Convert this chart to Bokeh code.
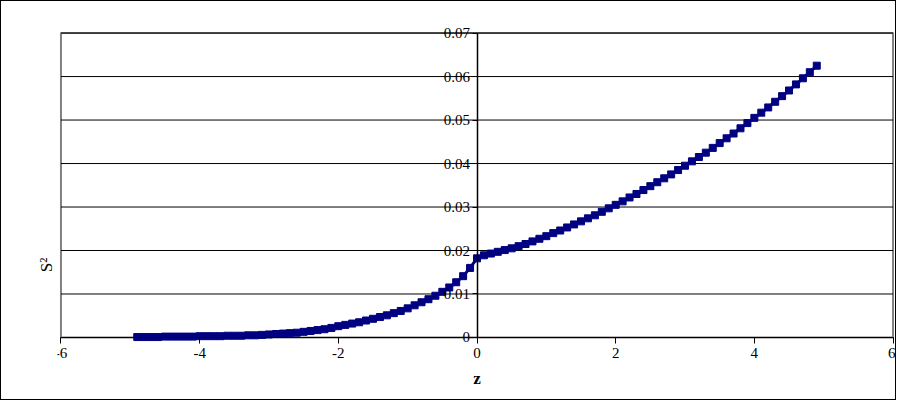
from bokeh.plotting import figure
from bokeh.models import Label, FixedTicker, Range1d, LinearAxis
from bokeh.embed import file_html
from bokeh.resources import INLINE

z = [round(-4.9 + 0.1 * i, 1) for i in range(99)]
s2 = [
    0.0001, 0.0001, 0.0001, 0.0001, 0.0002, 0.0002, 0.0002, 0.0002, 0.0002, 0.0003,
    0.0003, 0.0003, 0.0003, 0.0004, 0.0004, 0.0004, 0.0005, 0.0005, 0.0006, 0.0007,
    0.0008, 0.0009, 0.0010, 0.0011, 0.0013, 0.0015, 0.0017, 0.0019, 0.0022, 0.0026,
    0.0029, 0.0032, 0.0035, 0.0039, 0.0043, 0.0047, 0.0051, 0.0056, 0.0061, 0.0067,
    0.0074, 0.0081, 0.0088, 0.0096, 0.0105, 0.0115, 0.0127, 0.0141, 0.0160, 0.0182,
    0.0189, 0.0193, 0.0197, 0.0201, 0.0205, 0.0210, 0.0215, 0.0221, 0.0227, 0.0233,
    0.0240, 0.0246, 0.0253, 0.0260, 0.0267, 0.0274, 0.0281, 0.0289, 0.0297, 0.0305,
    0.0313, 0.0322, 0.0330, 0.0339, 0.0348, 0.0357, 0.0366, 0.0375, 0.0385, 0.0395,
    0.0405, 0.0415, 0.0425, 0.0436, 0.0447, 0.0458, 0.0469, 0.0481, 0.0493, 0.0505,
    0.0517, 0.0529, 0.0542, 0.0555, 0.0568, 0.0582, 0.0596, 0.0610, 0.0625,
]
x_ticks = [-6, -4, -2, 0, 2, 4, 6]
x_labels = ["-6", "-4", "-2", "0", "2", "4", "6"]
y_ticks = [0, 0.01, 0.02, 0.03, 0.04, 0.05, 0.06, 0.07]
y_labels = ["0", "0.01", "0.02", "0.03", "0.04", "0.05", "0.06", "0.07"]

FONT = "Liberation Serif"

# the frame is padded so tick labels of the centred axes are not clipped
p = figure(width=896, height=400, output_backend="svg", toolbar_location=None,
           x_range=Range1d(-6.05, 6.05), y_range=Range1d(-0.0115, 0.0722),
           min_border_left=56, min_border_right=1, min_border_top=22, min_border_bottom=14)
p.styles = {"border": "1px solid black", "box-sizing": "border-box"}
p.outline_line_color = None
p.grid.visible = False

# plot area border and gridlines
p.quad(left=[x_ticks[0]], right=[x_ticks[-1]], bottom=[y_ticks[0]], top=[y_ticks[-1]],
       fill_color=None, line_color="#808080", line_width=2)
p.segment(x0=[x_ticks[0]] * len(y_ticks), y0=y_ticks, x1=[x_ticks[-1]] * len(y_ticks), y1=y_ticks,
          line_color="black", line_width=1)

p.xaxis.fixed_location = 0
p.xaxis.bounds = (x_ticks[0], x_ticks[-1])
p.xaxis.ticker = FixedTicker(ticks=x_ticks)
p.xaxis.major_label_overrides = dict(zip(x_ticks, x_labels))
p.xaxis.axis_line_color = "black"
p.xaxis.major_tick_in = 0
p.xaxis.major_tick_out = 6
p.xaxis.minor_tick_line_color = None
p.xaxis.major_label_text_font = FONT
p.xaxis.major_label_text_font_size = "15px"
p.xaxis.major_label_text_color = "black"

p.yaxis.fixed_location = 0
p.yaxis.bounds = (y_ticks[0], y_ticks[-1])
p.yaxis.ticker = FixedTicker(ticks=y_ticks)
p.yaxis.major_label_overrides = dict(zip(y_ticks, y_labels))
p.yaxis.axis_line_color = "black"
p.yaxis.axis_line_width = 1.5
p.yaxis.major_tick_in = 0
p.yaxis.major_tick_out = 5
p.yaxis.minor_tick_line_color = None
p.yaxis.major_label_text_font = FONT
p.yaxis.major_label_text_font_size = "15px"
p.yaxis.major_label_text_color = "black"
p.yaxis.major_label_standoff = 2

# label-only axis on the left, padded so the title sits low like the original
lab = LinearAxis(axis_label="S²" + "\u00a0" * 28, ticker=FixedTicker(ticks=[]),
                 axis_line_color=None, major_tick_line_color=None, minor_tick_line_color=None,
                 axis_label_standoff=2,
                 axis_label_text_font=FONT, axis_label_text_font_size="17px",
                 axis_label_text_font_style="normal", axis_label_text_color="black")
p.add_layout(lab, "left")

p.line(z, s2, line_color="#000080", line_width=3)
p.scatter(z, s2, marker="square", size=7, color="#000080")

p.add_layout(Label(x=0, y=-0.0072, text="z", text_align="center", text_baseline="top",
                   text_font=FONT, text_font_style="bold", text_font_size="17px", text_color="black"))

open("out.html", "w").write(file_html(p, INLINE))
